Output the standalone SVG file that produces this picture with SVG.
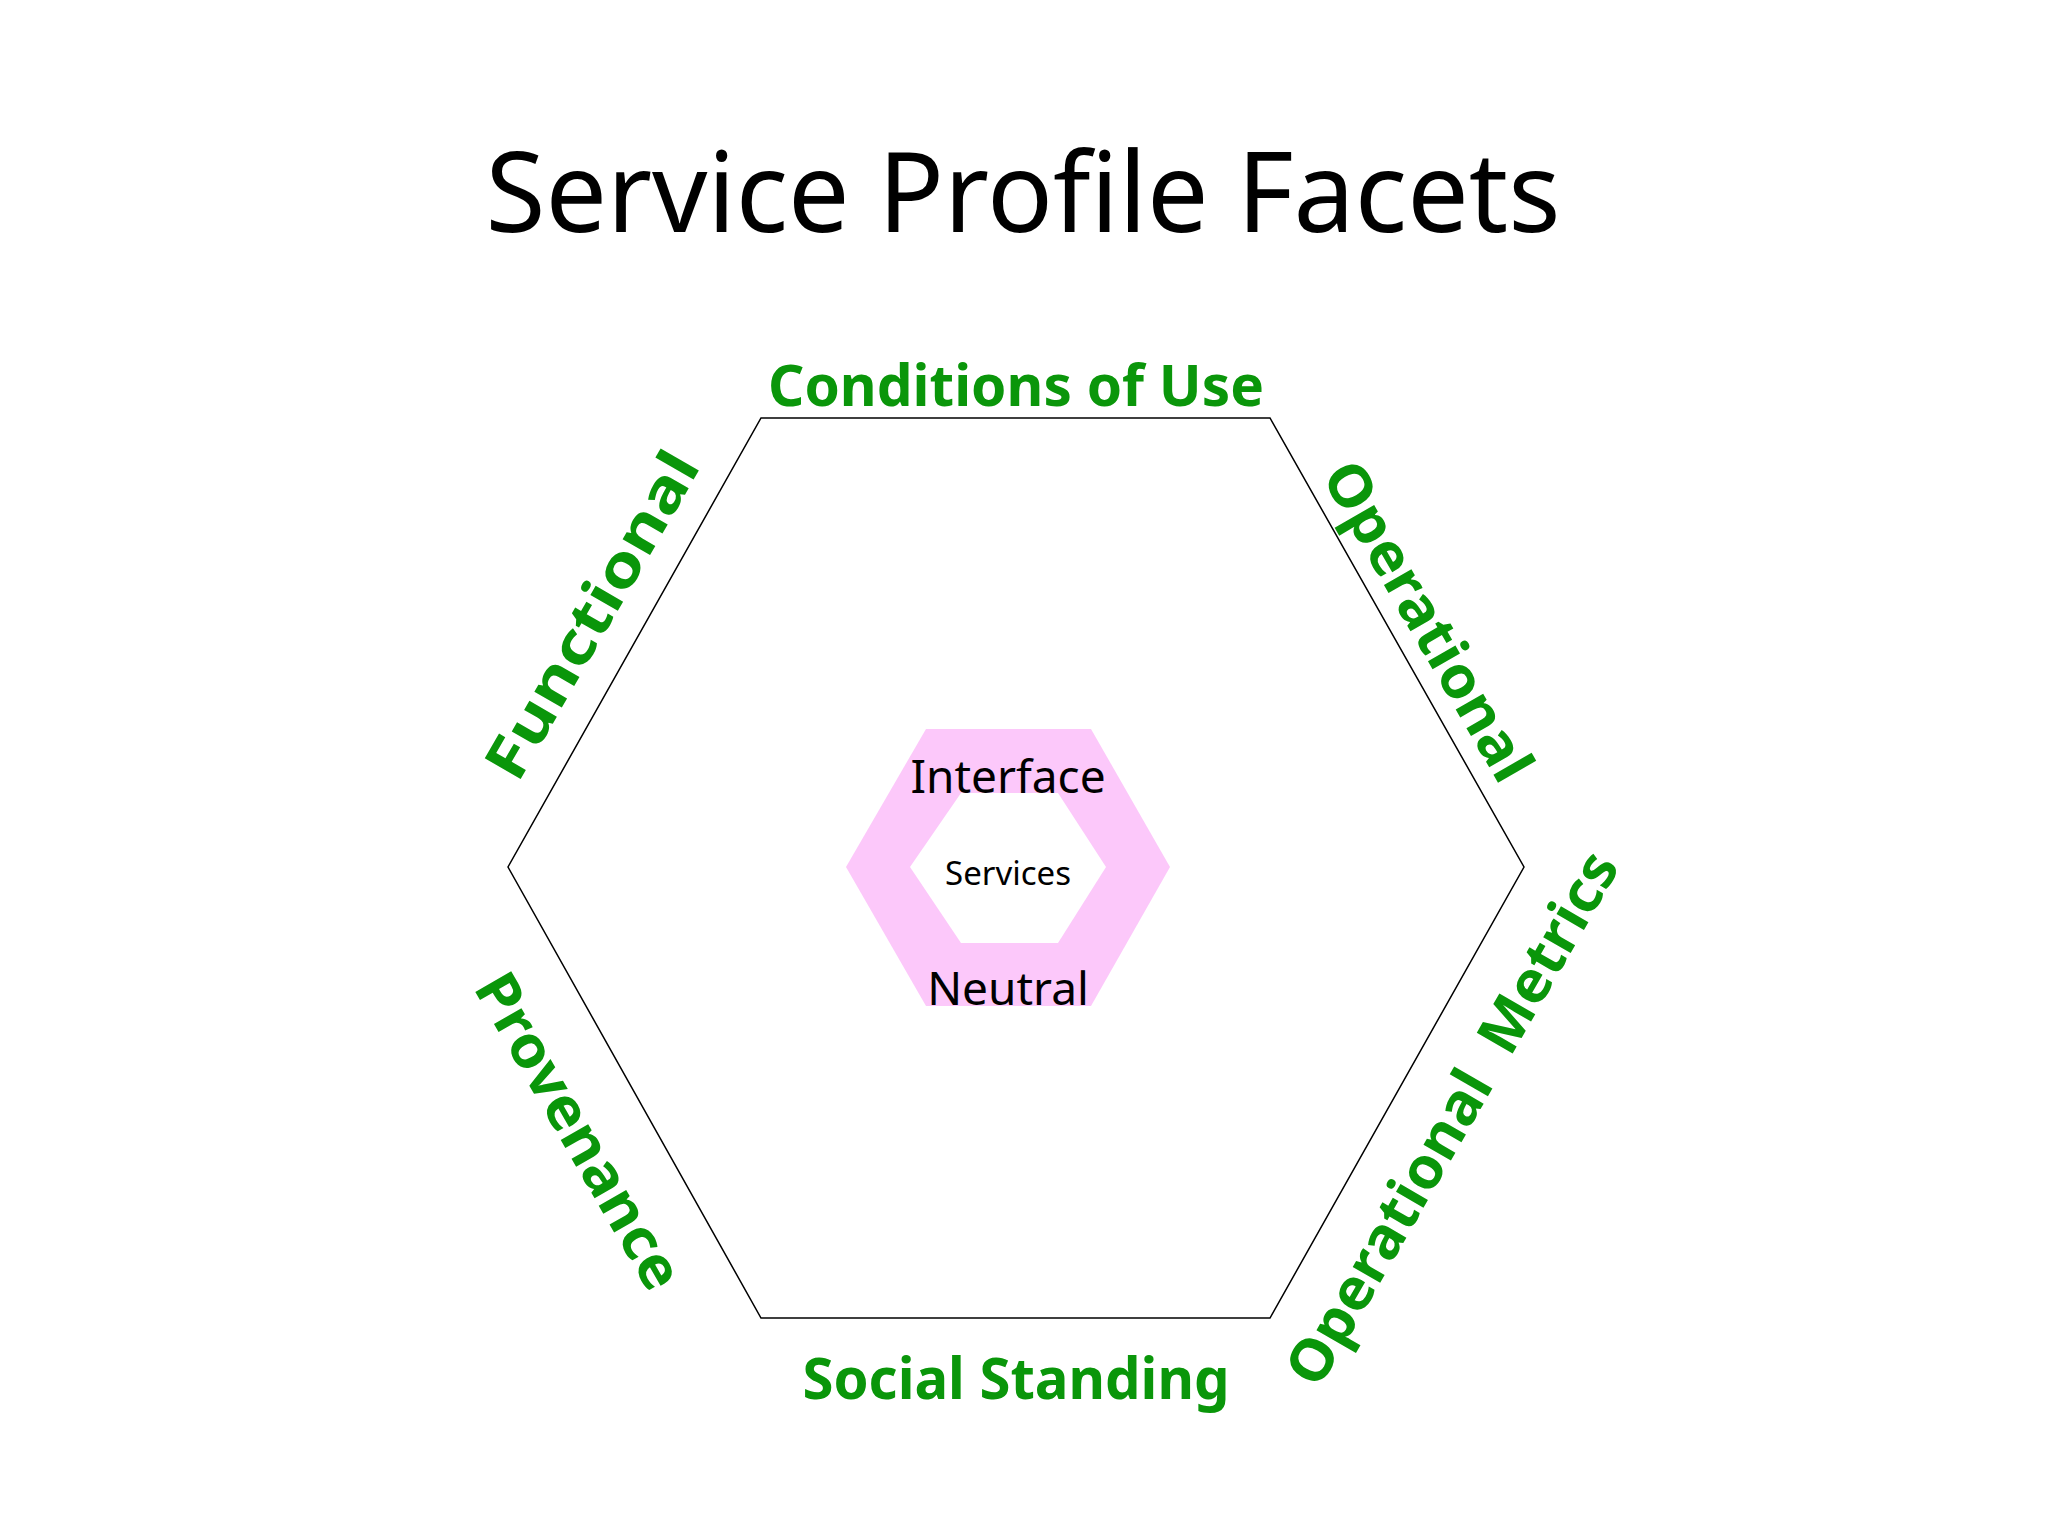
<svg xmlns="http://www.w3.org/2000/svg" width="2048" height="1536" viewBox="0 0 2048 1536">
<style>
.t{font-family:"Noto Sans","Liberation Sans",sans-serif;fill:#000}
.g{font-family:"Noto Sans","Liberation Sans",sans-serif;font-weight:bold;fill:#0a960a;font-size:58px;text-anchor:middle;dominant-baseline:central}
</style>
<rect width="2048" height="1536" fill="#fff"/>
<text class="t" x="1023" y="232" font-size="112" text-anchor="middle" textLength="1075" lengthAdjust="spacingAndGlyphs">Service Profile Facets</text>
<g id="outer"><polygon points="761,418 1270,418 1524,867 1270,1318 761,1318 508,867" fill="none" stroke="#000" stroke-width="1.5"/></g>
<g id="core">
<polygon points="846,867 926,729 1091,729 1170,867 1091,1006 926,1006" fill="#fcc8fa"/>
<polygon points="910,867 961,793 1058,793 1106,867 1058,943 961,943" fill="#fff"/>
<text class="t" x="1008" y="775" font-size="46" text-anchor="middle" dominant-baseline="central">Interface</text>
<text class="t" x="1008" y="987" font-size="46" text-anchor="middle" dominant-baseline="central">Neutral</text>
<text class="t" x="1008" y="872" font-size="33" text-anchor="middle" dominant-baseline="central">Services</text>
</g>
<g id="labels">
<text class="g" x="1016" y="383" textLength="496" lengthAdjust="spacingAndGlyphs">Conditions of Use</text>
<text class="g" x="1016" y="1376" textLength="427" lengthAdjust="spacingAndGlyphs">Social Standing</text>
<text class="g" transform="translate(590,614) rotate(-60)" textLength="368" lengthAdjust="spacingAndGlyphs">Functional</text>
<text class="g" transform="translate(1430,620) rotate(60)" textLength="359" lengthAdjust="spacingAndGlyphs">Operational</text>
<text class="g" transform="translate(581,1130) rotate(60)" textLength="355" lengthAdjust="spacingAndGlyphs">Provenance</text>
<text class="g" transform="translate(1450,1117) rotate(-60)" textLength="605" lengthAdjust="spacingAndGlyphs" xml:space="preserve">Operational  Metrics</text>
</g>
</svg>
